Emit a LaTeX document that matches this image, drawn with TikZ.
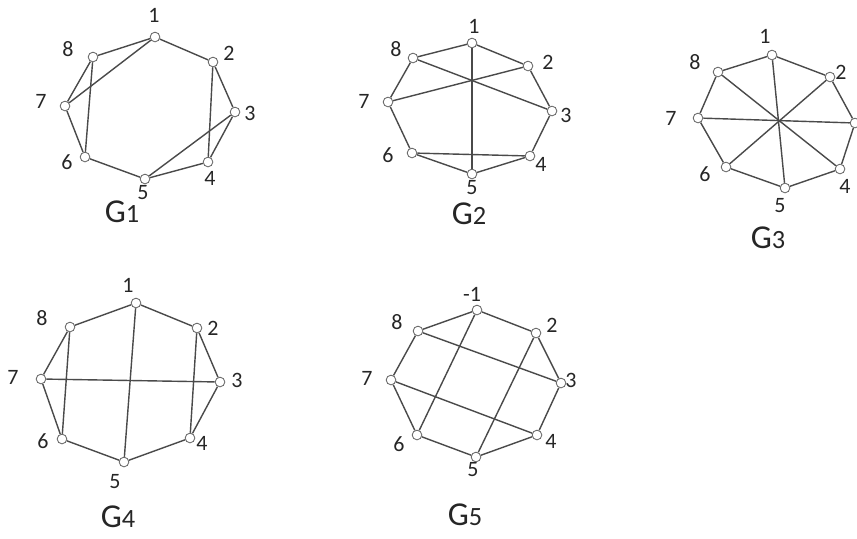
\documentclass[tikz,border=0pt]{standalone}
\usepackage{fontspec}
\setmainfont{Carlito}
\usetikzlibrary{positioning}
\definecolor{edgegray}{HTML}{4A4A4A}
\definecolor{vtxgray}{HTML}{6A6A6A}

\begin{document}
\begin{tikzpicture}[x=0.02cm, y=-0.02cm,
    vtx/.style={circle, draw=vtxgray, fill=white, line width=0.5pt,
                inner sep=0pt, minimum size=5.5pt},
    edge/.style={draw=edgegray, line width=0.8pt},
    lbl/.style={font=\fontsize{12.5}{13}\selectfont, text=black!85, inner sep=0pt},
    gname/.style={font=\fontsize{19}{20}\selectfont, text=black!85, inner sep=0pt}
]
\useasboundingbox (0,0) rectangle (857,538);

% G1
\node[vtx] (a1) at (155,37)  {};
\node[vtx] (a2) at (213,62)  {};
\node[vtx] (a3) at (235,112) {};
\node[vtx] (a4) at (208,162) {};
\node[vtx] (a5) at (145,179) {};
\node[vtx] (a6) at (85,157)  {};
\node[vtx] (a7) at (65,106)  {};
\node[vtx] (a8) at (93,57)   {};
\draw[edge] (a1) -- (a2) -- (a3) -- (a4) -- (a5) -- (a6) -- (a7) -- (a8) -- (a1);
\draw[edge] (a1) -- (a7);
\draw[edge] (a8) -- (a6);
\draw[edge] (a2) -- (a4);
\draw[edge] (a3) -- (a5);
\node[lbl] (la1) at (154,15)  {1};
\node[lbl] (la2) at (229,53)  {2};
\node[lbl] (la3) at (250,113) {3};
\node[lbl] (la4) at (210,178) {4};
\node[lbl] (la5) at (143,193) {5};
\node[lbl] (la6) at (67,162)  {6};
\node[lbl] (la7) at (41,101)  {7};
\node[lbl] (la8) at (68,49)   {8};
\node[gname] (ga) at (122,212) {G{\fontsize{15}{16}\selectfont 1}};

% G2
\node[vtx] (b1) at (472,43)  {};
\node[vtx] (b2) at (528,66)  {};
\node[vtx] (b3) at (552,111) {};
\node[vtx] (b4) at (530,156) {};
\node[vtx] (b5) at (472,174) {};
\node[vtx] (b6) at (412,153) {};
\node[vtx] (b7) at (388,102) {};
\node[vtx] (b8) at (413,58)  {};
\draw[edge] (b1) -- (b2) -- (b3) -- (b4) -- (b5) -- (b6) -- (b7) -- (b8) -- (b1);
\draw[edge] (b1) -- (b5);
\draw[edge] (b8) -- (b3);
\draw[edge] (b7) -- (b2);
\draw[edge] (b6) -- (b4);
\node[lbl] (lb1) at (474,26)  {1};
\node[lbl] (lb2) at (548,62)  {2};
\node[lbl] (lb3) at (566,115) {3};
\node[lbl] (lb4) at (541,164) {4};
\node[lbl] (lb5) at (472,188) {5};
\node[lbl] (lb6) at (388,155) {6};
\node[lbl] (lb7) at (364,101) {7};
\node[lbl] (lb8) at (396,49)  {8};
\node[gname] (gb) at (469,214) {G{\fontsize{15}{16}\selectfont 2}};

% G3
\node[vtx] (c1) at (772,55)  {};
\node[vtx] (c2) at (830,77)  {};
\node[vtx] (c3) at (855,123) {};
\node[vtx] (c4) at (840,169) {};
\node[vtx] (c5) at (785,188) {};
\node[vtx] (c6) at (726,167) {};
\node[vtx] (c7) at (698,118) {};
\node[vtx] (c8) at (718,72)  {};
\draw[edge] (c1) -- (c2) -- (c3) -- (c4) -- (c5) -- (c6) -- (c7) -- (c8) -- (c1);
\draw[edge] (c1) -- (c5);
\draw[edge] (c2) -- (c6);
\draw[edge] (c3) -- (c7);
\draw[edge] (c4) -- (c8);
\node[lbl] (lc1) at (765,36)  {1};
\node[lbl] (lc2) at (841,72)  {2};
\node[lbl] (lc4) at (845,186) {4};
\node[lbl] (lc5) at (780,206) {5};
\node[lbl] (lc6) at (705,174) {6};
\node[lbl] (lc7) at (671,118) {7};
\node[lbl] (lc8) at (695,62)  {8};
\node[gname] (gc) at (768,238) {G{\fontsize{15}{16}\selectfont 3}};

% G4
\node[vtx] (d1) at (136,303) {};
\node[vtx] (d2) at (197,328) {};
\node[vtx] (d3) at (220,382) {};
\node[vtx] (d4) at (190,438) {};
\node[vtx] (d5) at (124,462) {};
\node[vtx] (d6) at (62,439)  {};
\node[vtx] (d7) at (41,379)  {};
\node[vtx] (d8) at (70,327)  {};
\draw[edge] (d1) -- (d2) -- (d3) -- (d4) -- (d5) -- (d6) -- (d7) -- (d8) -- (d1);
\draw[edge] (d1) -- (d5);
\draw[edge] (d7) -- (d3);
\draw[edge] (d8) -- (d6);
\draw[edge] (d2) -- (d4);
\node[lbl] (ld1) at (128,285) {1};
\node[lbl] (ld2) at (213,328) {2};
\node[lbl] (ld3) at (237,380) {3};
\node[lbl] (ld4) at (202,443) {4};
\node[lbl] (ld5) at (115,482) {5};
\node[lbl] (ld6) at (43,441)  {6};
\node[lbl] (ld7) at (13,377)  {7};
\node[lbl] (ld8) at (42,318)  {8};
\node[gname] (gd) at (118,517) {G{\fontsize{15}{16}\selectfont 4}};

% G5
\node[vtx] (e1) at (477,310) {};
\node[vtx] (e2) at (536,333) {};
\node[vtx] (e3) at (561,383) {};
\node[vtx] (e4) at (537,435) {};
\node[vtx] (e5) at (476,457) {};
\node[vtx] (e6) at (417,435) {};
\node[vtx] (e7) at (391,380) {};
\node[vtx] (e8) at (418,331) {};
\draw[edge] (e1) -- (e2) -- (e3) -- (e4) -- (e5) -- (e6) -- (e7) -- (e8) -- (e1);
\draw[edge] (e1) -- (e6);
\draw[edge] (e8) -- (e3);
\draw[edge] (e7) -- (e4);
\draw[edge] (e2) -- (e5);
\node[lbl] (le1) at (472,294) {-1};
\node[lbl] (le2) at (552,325) {2};
\node[lbl] (le3) at (571,380) {3};
\node[lbl] (le4) at (551,441) {4};
\node[lbl] (le5) at (473,470) {5};
\node[lbl] (le6) at (399,444) {6};
\node[lbl] (le7) at (367,378) {7};
\node[lbl] (le8) at (397,322) {8};
\node[gname] (ge) at (465,515) {G{\fontsize{15}{16}\selectfont 5}};
\end{tikzpicture}
\end{document}
